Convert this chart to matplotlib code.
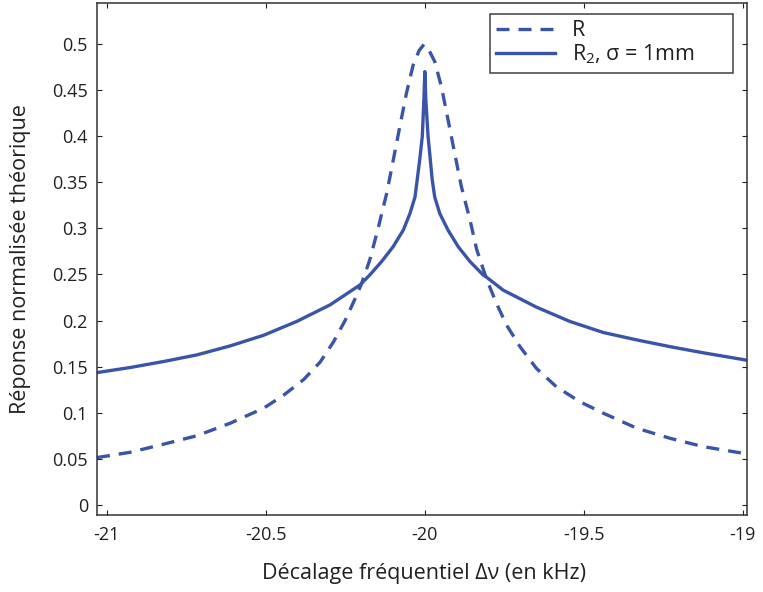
import matplotlib
matplotlib.use("Agg")
import matplotlib.pyplot as plt

# ---- data ----
r_x = [-21.031, -20.927, -20.822, -20.717, -20.612, -20.507, -20.444, -20.381, -20.329,
       -20.287, -20.250, -20.219, -20.199, -20.173, -20.147, -20.120, -20.100, -20.079,
       -20.058, -20.037, -20.018, -20.003, -19.988, -19.969, -19.948, -19.927, -19.906,
       -19.885, -19.858, -19.837, -19.806, -19.775, -19.743, -19.701, -19.649, -19.586,
       -19.513, -19.439, -19.334, -19.230, -19.125, -18.988]
r_y = [0.0513, 0.057, 0.0658, 0.075, 0.0886, 0.1049, 0.119, 0.136, 0.155,
       0.177, 0.2006, 0.224, 0.240, 0.266, 0.300, 0.338, 0.373, 0.410,
       0.4465, 0.477, 0.493, 0.4995, 0.494, 0.481, 0.4537, 0.4176, 0.381,
       0.345, 0.309, 0.277, 0.245, 0.2187, 0.195, 0.1717, 0.148, 0.128,
       0.112, 0.0995, 0.0832, 0.0723, 0.0632, 0.0553]

r2_x = [-21.031, -20.927, -20.822, -20.717, -20.612, -20.507, -20.403, -20.298, -20.204,
        -20.173, -20.136, -20.100, -20.068, -20.047, -20.031, -20.024, -20.016, -20.008,
        -20.003, -20.000, -19.997, -19.990, -19.983, -19.977, -19.969, -19.953, -19.927,
        -19.895, -19.858, -19.817, -19.806, -19.754, -19.649, -19.544, -19.439, -19.334,
        -19.230, -19.125, -18.988]
r2_y = [0.1435, 0.149, 0.1555, 0.1627, 0.1725, 0.184, 0.199, 0.217, 0.2386,
        0.2495, 0.264, 0.280, 0.298, 0.316, 0.334, 0.353, 0.375, 0.400,
        0.440, 0.470, 0.440, 0.400, 0.375, 0.353, 0.334, 0.316, 0.298,
        0.280, 0.264, 0.2495, 0.247, 0.233, 0.2145, 0.199, 0.187, 0.179,
        0.1717, 0.165, 0.157]

x_ticks = [-21, -20.5, -20, -19.5, -19]
x_labels = ["-21", "-20.5", "-20", "-19.5", "-19"]
y_ticks = [0, 0.05, 0.1, 0.15, 0.2, 0.25, 0.3, 0.35, 0.4, 0.45, 0.5]
y_labels = ["0", "0.05", "0.1", "0.15", "0.2", "0.25", "0.3", "0.35", "0.4", "0.45", "0.5"]

label_r = "R"
label_r2 = r"R$_\mathregular{2}$, σ = 1mm"

# ---- style ----
FONT = "Open Sans"
plt.rcParams["font.family"] = [FONT, "DejaVu Sans"]
plt.rcParams["mathtext.fontset"] = "custom"
plt.rcParams["mathtext.rm"] = FONT
TXT = "#231f20"
BLUE = "#3a55a8"

fig = plt.figure(figsize=(7.63, 5.92), dpi=100)
ax = fig.add_axes([97 / 763, 1 - 515 / 592, (747 - 97) / 763, (515 - 3) / 592])

ax.plot(r_x, r_y, color=BLUE, lw=2.4, dashes=(3.9, 2.7), label=label_r)
ax.plot(r2_x, r2_y, color=BLUE, lw=2.4, label=label_r2)

ax.set_xlim(-21.031, -18.987)
ax.set_ylim(-0.011, 0.5445)
ax.set_xticks(x_ticks)
ax.set_xticklabels(x_labels)
ax.set_yticks(y_ticks)
ax.set_yticklabels(y_labels)
ax.tick_params(direction="in", top=True, right=True, length=3.6, width=0.8,
               colors=TXT, labelsize=13)
ax.tick_params(axis="y", pad=6.5)
ax.tick_params(axis="x", pad=8)
for s in ax.spines.values():
    s.set_linewidth(1.1)
    s.set_color("#333333")

ax.set_xlabel("Décalage fréquentiel Δν (en kHz)", fontsize=15.5, color=TXT)
ax.set_ylabel("Réponse normalisée théorique", fontsize=15.5, color=TXT)
ax.xaxis.set_label_coords(0.503, -0.094)
ax.yaxis.set_label_coords(-0.102, 0.5)

leg = ax.legend(loc="upper left", bbox_to_anchor=(0.6046, 0.9785, 0.374, 0.0),
                mode="expand", borderaxespad=0.0,
                fontsize=15.5, frameon=True, fancybox=False,
                handlelength=2.7, labelspacing=0.05,
                borderpad=0.3, handletextpad=0.8)
leg.get_frame().set_edgecolor("#111111")
leg.get_frame().set_linewidth(1.1)
for t in leg.get_texts():
    t.set_color(TXT)

fig.savefig("out.png", dpi=100)
